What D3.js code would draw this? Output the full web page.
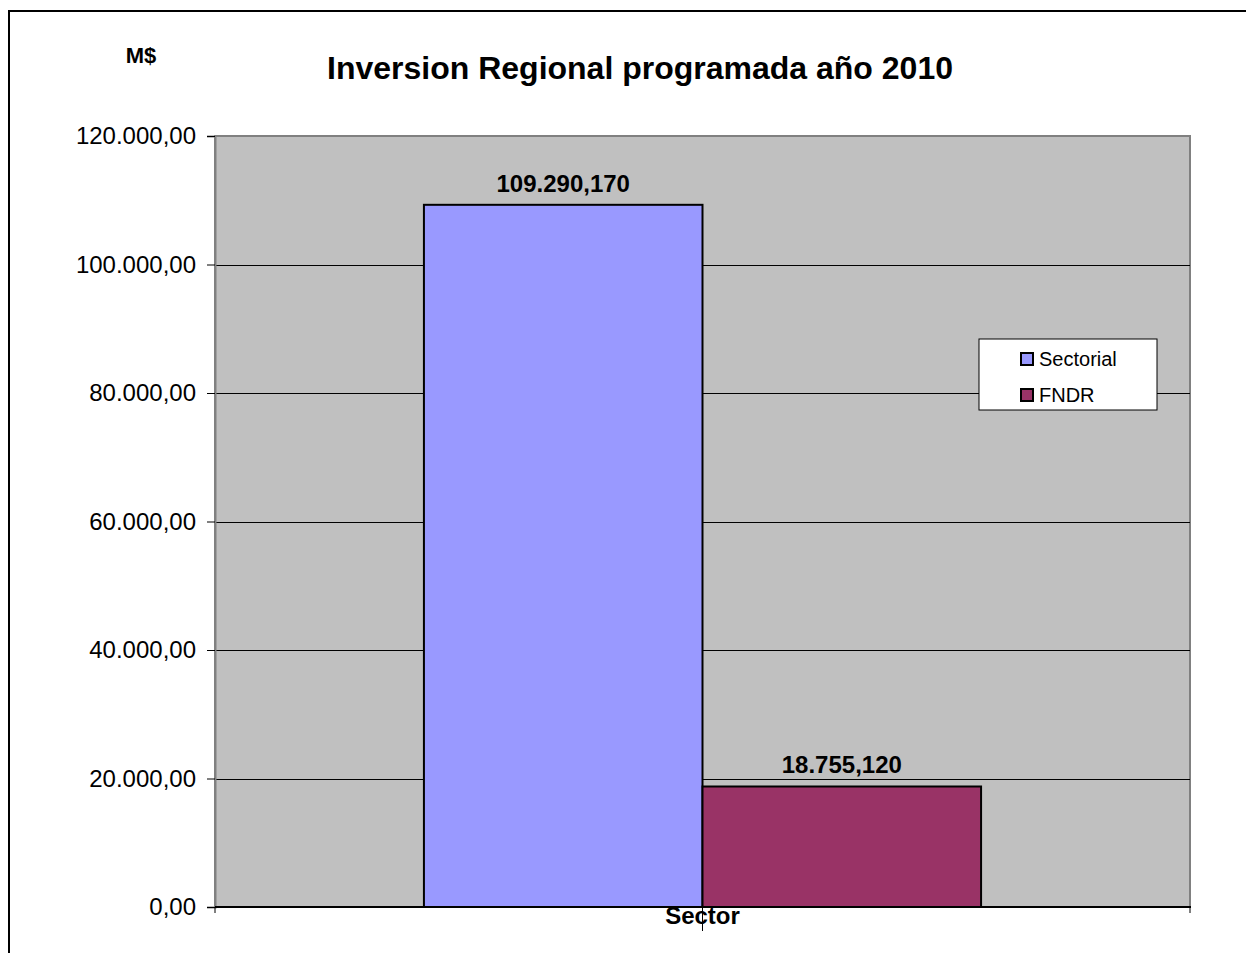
<!DOCTYPE html>
<html><head><meta charset="utf-8">
<script src="https://cdn.jsdelivr.net/npm/d3@7"></script>
<style>body{margin:0;background:#fff}svg{display:block}text{font-family:"Liberation Sans",Arial,sans-serif}</style>
</head><body>
<svg id="c" width="1246" height="953"></svg>
<script>
const categories = ["Sector"];
const seriesNames = ["Sectorial", "FNDR"];
const seriesValues = [109290.170, 18755.120];
const seriesLabels = ["109.290,170", "18.755,120"];
const yTicks = [0, 20000, 40000, 60000, 80000, 100000, 120000];
const yTickLabels = ["0,00", "20.000,00", "40.000,00", "60.000,00", "80.000,00", "100.000,00", "120.000,00"];
const colors = ["#9999FF", "#993366"];

const svg = d3.select("#c");
const L = 215, R = 1190, T = 136, B = 907;
// outer frame
svg.append("rect").attr("x", 9).attr("y", 11).attr("width", 1260).attr("height", 1000)
  .attr("fill", "none").attr("stroke", "#000").attr("stroke-width", 2);

const y = d3.scaleLinear().domain([0, 120000]).range([B, T]);
const x0 = d3.scaleBand().domain(categories).range([L, R]).paddingInner(0).paddingOuter(0.375);
const x1 = d3.scaleBand().domain(seriesNames).range([0, x0.bandwidth()]);

svg.append("rect").attr("x", L).attr("y", T).attr("width", R - L).attr("height", B - T)
  .attr("fill", "#C0C0C0").attr("stroke", "#808080").attr("stroke-width", 2);

// gridlines
svg.append("g").selectAll("line").data(yTicks.filter(d => d > 0 && d < 120000)).join("line")
  .attr("x1", L).attr("x2", R).attr("y1", d => Math.round(y(d)) + 0.5).attr("y2", d => Math.round(y(d)) + 0.5)
  .attr("stroke", "#000").attr("stroke-width", 1);

// y axis
const yAxis = d3.axisLeft(y).tickValues(yTicks).tickFormat((d, i) => yTickLabels[i]).tickSize(8).tickPadding(11);
const ga = svg.append("g").attr("transform", `translate(${L},0)`).call(yAxis);
ga.select(".domain").attr("stroke", "#808080").attr("stroke-width", 2);
ga.selectAll(".tick line").attr("stroke", "#000");
ga.selectAll(".tick text").attr("font-size", 24).attr("fill", "#000").style("font-family", '"Liberation Sans",Arial,sans-serif');

// bars
const bars = svg.append("g");
seriesNames.forEach((s, i) => {
  const bx = x0(categories[0]) + x1(s);
  bars.append("rect").attr("x", bx).attr("y", y(seriesValues[i])).attr("width", x1.bandwidth())
    .attr("height", B - y(seriesValues[i])).attr("fill", colors[i]).attr("stroke", "#000").attr("stroke-width", 2);
  bars.append("text").attr("x", bx + x1.bandwidth() / 2).attr("y", y(seriesValues[i]) - 13)
    .attr("text-anchor", "middle").attr("font-size", 24).attr("font-weight", "bold").text(seriesLabels[i]);
});

// x axis
svg.append("line").attr("x1", L).attr("x2", R + 1).attr("y1", B).attr("y2", B).attr("stroke", "#000").attr("stroke-width", 2);
[L, R].forEach(px => svg.append("line").attr("x1", px).attr("x2", px).attr("y1", B).attr("y2", B + 6).attr("stroke", "#000"));
const cx = x0(categories[0]) + x0.bandwidth() / 2;
svg.append("line").attr("x1", cx).attr("x2", cx).attr("y1", B).attr("y2", B + 24).attr("stroke", "#000");
svg.append("text").attr("x", cx).attr("y", B + 17).attr("text-anchor", "middle")
  .attr("font-size", 24).attr("font-weight", "bold").text(categories[0]);

// titles
svg.append("text").attr("x", 640).attr("y", 79).attr("text-anchor", "middle")
  .attr("font-size", 32).attr("font-weight", "bold").text("Inversion Regional programada año 2010");
svg.append("text").attr("x", 141).attr("y", 63).attr("text-anchor", "middle")
  .attr("font-size", 22).attr("font-weight", "bold").text("M$");

// legend
const lg = svg.append("g");
lg.append("rect").attr("x", 979).attr("y", 339).attr("width", 178).attr("height", 71)
  .attr("fill", "#fff").attr("stroke", "#000").attr("stroke-width", 1);
seriesNames.forEach((s, i) => {
  const yy = 359 + i * 36;
  lg.append("rect").attr("x", 1021).attr("y", yy - 6).attr("width", 12).attr("height", 12)
    .attr("fill", colors[i]).attr("stroke", "#000").attr("stroke-width", 2);
  lg.append("text").attr("x", 1039).attr("y", yy + 7).attr("font-size", 20).text(s);
});
</script>
</body></html>
